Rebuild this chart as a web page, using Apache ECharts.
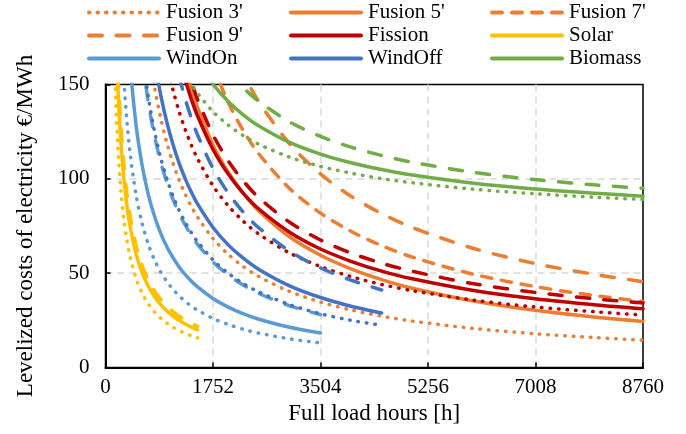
<!DOCTYPE html>
<html>
<head>
<meta charset="utf-8">
<script src="https://cdn.jsdelivr.net/npm/echarts@6/dist/echarts.min.js"></script>
<style>
  html, body { margin: 0; padding: 0; background: #fff; }
  #chart { width: 686px; height: 434px; }
</style>
</head>
<body>
<div id="chart"></div>
<script>
const hours = [150, 200, 250, 300, 350, 400, 500, 600, 700, 800, 900, 1000, 1100, 1200, 1300,
  1400, 1500, 1750, 2000, 2250, 2500, 3000, 3504, 4000, 4500, 5000, 6000, 7000, 8000, 8760];

const xTicks = [0, 1752, 3504, 5256, 7008, 8760];
const yTicks = [0, 50, 100, 150];

// LCOE in €/MWh, null = outside the curve's range
const fusion3 = [null, null, null, null, null, null, null, null, 169.6, 148.5, 132.1, 119, 108.3, 99.3, 91.8,
  85.3, 79.7, 68.4, 60, 53.4, 48.2, 40.3, 34.7, 30.5, 27.2, 24.6, 20.7, 17.9, 15.8, 14.5];
const fusion5 = [null, null, null, null, null, null, null, null, null, null, null, null, null, null, 158.7,
  147.4, 137.7, 118.1, 103.5, 92.1, 83, 69.3, 59.5, 52.3, 46.6, 42, 35.2, 30.3, 26.6, 24.4];
const fusion7 = [null, null, null, null, null, null, null, null, null, null, null, null, null, null, null,
  null, null, 160, 140.5, 125.3, 113.2, 94.9, 81.8, 72.2, 64.6, 58.5, 49.4, 42.9, 38, 35];
const fusion9 = [null, null, null, null, null, null, null, null, null, null, null, null, null, null, null,
  null, null, null, 174.2, 155.6, 140.8, 118.6, 102.6, 90.8, 81.6, 74.2, 63.1, 55.1, 49.2, 45.5];

const fission = [null, null, null, null, null, null, null, null, null, null, null, null, null, null, 152.3,
  142.1, 133.3, 115.7, 102.5, 92.2, 84, 71.7, 62.8, 56.3, 51.1, 47, 40.8, 36.4, 33.1, 31.1];
const fissionLow = [null, null, null, null, null, null, null, null, null, null, null, 160.7, 147.1, 135.7, 126.1,
  117.8, 110.7, 96.4, 85.7, 77.4, 70.7, 60.7, 53.5, 48.2, 44, 40.7, 35.7, 32.1, 29.5, 27.8];
const fissionHigh = [null, null, null, null, null, null, null, null, null, null, null, null, null, null, 162.1,
  151.4, 142.1, 123.5, 109.5, 98.7, 90, 77, 67.6, 60.7, 55.3, 51, 44.4, 39.8, 36.3, 34.2];

const solar = [200, 150, 120, 100, 85.7, 75, 60, 50, 42.9, 37.5, 33.3, 30, 27.3, 25, 23.1,
  21.4, 20, null, null, null, null, null, null, null, null, null, null, null, null, null];
const solarLow = [156.7, 117.5, 94, 78.3, 67.1, 58.8, 47, 39.2, 33.6, 29.4, 26.1, 23.5, 21.4, 19.6, 18.1,
  16.8, 15.7, null, null, null, null, null, null, null, null, null, null, null, null, null];
const solarHigh = [213.8, 160.5, 128.5, 107.2, 91.9, 80.5, 64.5, 53.8, 46.2, 40.5, 36.1, 32.5, 29.6, 27.2, 25.1,
  23.4, 21.8, null, null, null, null, null, null, null, null, null, null, null, null, null];

const windOn = [null, null, null, null, null, 160, 128, 106.7, 91.4, 80, 71.1, 64, 58.2, 53.3, 49.2,
  45.7, 42.7, 36.6, 32, 28.4, 25.6, 21.3, 18.3, null, null, null, null, null, null, null];
const windOnLow = [null, null, null, 151.8, 130.1, 113.9, 91.1, 75.9, 65.1, 56.9, 50.6, 45.6, 41.4, 38, 35,
  32.5, 30.4, 26, 22.8, 20.2, 18.2, 15.2, 13, null, null, null, null, null, null, null];
const windOnHigh = [null, null, null, null, null, null, null, 163.3, 140, 122.5, 108.9, 98, 89.1, 81.7, 75.4,
  70, 65.3, 56, 49, 43.6, 39.2, 32.7, 28, null, null, null, null, null, null, null];

const windOff = [null, null, null, null, null, null, null, null, null, 162.5, 144.4, 130, 118.2, 108.3, 100,
  92.9, 86.7, 74.3, 65, 57.8, 52, 43.3, 37.1, 32.5, 28.9, null, null, null, null, null];
const windOffLow = [null, null, null, null, null, null, null, 166.7, 142.9, 125, 111.1, 100, 90.9, 83.3, 76.9,
  71.4, 66.7, 57.1, 50, 44.4, 40, 33.3, 28.5, 25, 22.4, null, null, null, null, null];
const windOffHigh = [null, null, null, null, null, null, null, null, null, null, null, null, null, 154.2, 142.3,
  132.1, 123.3, 105.7, 92.5, 82.2, 74, 61.7, 52.8, 46.3, 41.1, null, null, null, null, null];

const biomass = [null, null, null, null, null, null, null, null, null, null, null, null, null, null, null,
  null, 162.7, 150.3, 141, 133.8, 128, 119.3, 113.1, 108.5, 104.9, 102, 97.7, 94.6, 92.3, 90.8];
const biomassLow = [null, null, null, null, null, null, null, null, null, null, null, null, null, null, 155.9,
  150.3, 145.4, 135.7, 128.5, 122.8, 118.3, 111.5, 106.6, 103, 100.1, 97.9, 94.5, 92.1, 90.2, 89.1];
const biomassHigh = [null, null, null, null, null, null, null, null, null, null, null, null, null, null, null,
  null, null, null, 157.1, 148.1, 141, 130.2, 122.5, 116.8, 112.4, 108.8, 103.4, 99.6, 96.7, 95];

const FONT = "Liberation Serif";
const ORANGE = "#ED7D31", RED = "#C00000", YELLOW = "#FFC000";
const LIGHTBLUE = "#5B9BD5", BLUE = "#4472C4", GREEN = "#70AD47";
const DOT = [0.5, 8], DASH = [10, 10], LONG = [13, 14.5];

function line(name, values, color, type) {
  return {
    name: name,
    type: "line",
    data: hours.map((h, i) => [h, values[i]]).filter((p) => p[1] !== null),
    symbol: "none",
    showSymbol: false,
    smooth: 0.3,
    silent: true,
    itemStyle: { color: color },
    lineStyle: { color: color, width: 3.5, type: type, cap: "round", join: "round" },
  };
}

const series = [
  line("Fusion 3'", fusion3, ORANGE, DOT),
  line("Fusion 5'", fusion5, ORANGE, "solid"),
  line("Fusion 7'", fusion7, ORANGE, DASH),
  line("Fusion 9'", fusion9, ORANGE, LONG),
  line("Fission", fission, RED, "solid"),
  line("Fission low", fissionLow, RED, DOT),
  line("Fission high", fissionHigh, RED, LONG),
  line("Solar", solar, YELLOW, "solid"),
  line("Solar low", solarLow, YELLOW, DOT),
  line("Solar high", solarHigh, YELLOW, LONG),
  line("WindOn", windOn, LIGHTBLUE, "solid"),
  line("WindOn low", windOnLow, LIGHTBLUE, DOT),
  line("WindOn high", windOnHigh, LIGHTBLUE, LONG),
  line("WindOff", windOff, BLUE, "solid"),
  line("WindOff low", windOffLow, BLUE, DOT),
  line("WindOff high", windOffHigh, BLUE, LONG),
  line("Biomass", biomass, GREEN, "solid"),
  line("Biomass low", biomassLow, GREEN, DOT),
  line("Biomass high", biomassHigh, GREEN, LONG),
];

const legendColumns = [
  { left: 87, data: ["Fusion 3'", "Fusion 9'", "WindOn"] },
  { left: 289, data: ["Fusion 5'", "Fission", "WindOff"] },
  { left: 490, data: ["Fusion 7'", "Solar", "Biomass"] },
];

const gridLine = { show: true, showMinLine: false, showMaxLine: false,
  lineStyle: { color: "#d9d9d9", width: 1.5, type: [7, 5] } };

const chart = echarts.init(document.getElementById("chart"));

chart.setOption({
  animation: false,
  backgroundColor: "#fff",
  textStyle: { fontFamily: FONT },
  legend: legendColumns.map((c) => ({
    left: c.left,
    top: 2,
    orient: "vertical",
    padding: 0,
    itemWidth: 70,
    itemHeight: 14,
    itemGap: 2,
    selectedMode: false,
    data: c.data,
    itemStyle: { opacity: 0 },
    lineStyle: { width: 4 },
    textStyle: { fontFamily: FONT, fontSize: 21, color: "#000", padding: [0, 0, 0, 2] },
  })),
  grid: {
    left: 105.5,
    right: 43,
    top: 84.5,
    bottom: 66.5,
    show: true,
    borderColor: "#000",
    borderWidth: 1.5,
    backgroundColor: "transparent",
  },
  xAxis: {
    type: "value",
    min: xTicks[0],
    max: xTicks[xTicks.length - 1],
    interval: xTicks[1] - xTicks[0],
    name: "Full load hours [h]",
    nameLocation: "middle",
    nameGap: 25,
    nameTextStyle: { fontFamily: FONT, fontSize: 23, color: "#000" },
    axisLine: { show: true, lineStyle: { color: "#000", width: 2 } },
    axisTick: { show: true, inside: true, length: 5, lineStyle: { color: "#000", width: 1.5 } },
    axisLabel: { fontFamily: FONT, fontSize: 21, color: "#000", margin: 9, formatter: (v) => String(v) },
    splitLine: gridLine,
  },
  yAxis: {
    type: "value",
    min: yTicks[0],
    max: yTicks[yTicks.length - 1],
    interval: yTicks[1] - yTicks[0],
    name: "Levelized costs of electricity €/MWh",
    nameLocation: "middle",
    nameGap: 68,
    nameTextStyle: { fontFamily: FONT, fontSize: 23, color: "#000" },
    axisLine: { show: true, lineStyle: { color: "#000", width: 2 } },
    axisTick: { show: true, inside: true, length: 5, lineStyle: { color: "#000", width: 1.5 } },
    axisLabel: { fontFamily: FONT, fontSize: 21, color: "#000", margin: 16, formatter: (v) => String(v) },
    splitLine: gridLine,
  },
  series: series,
});
</script>
</body>
</html>
